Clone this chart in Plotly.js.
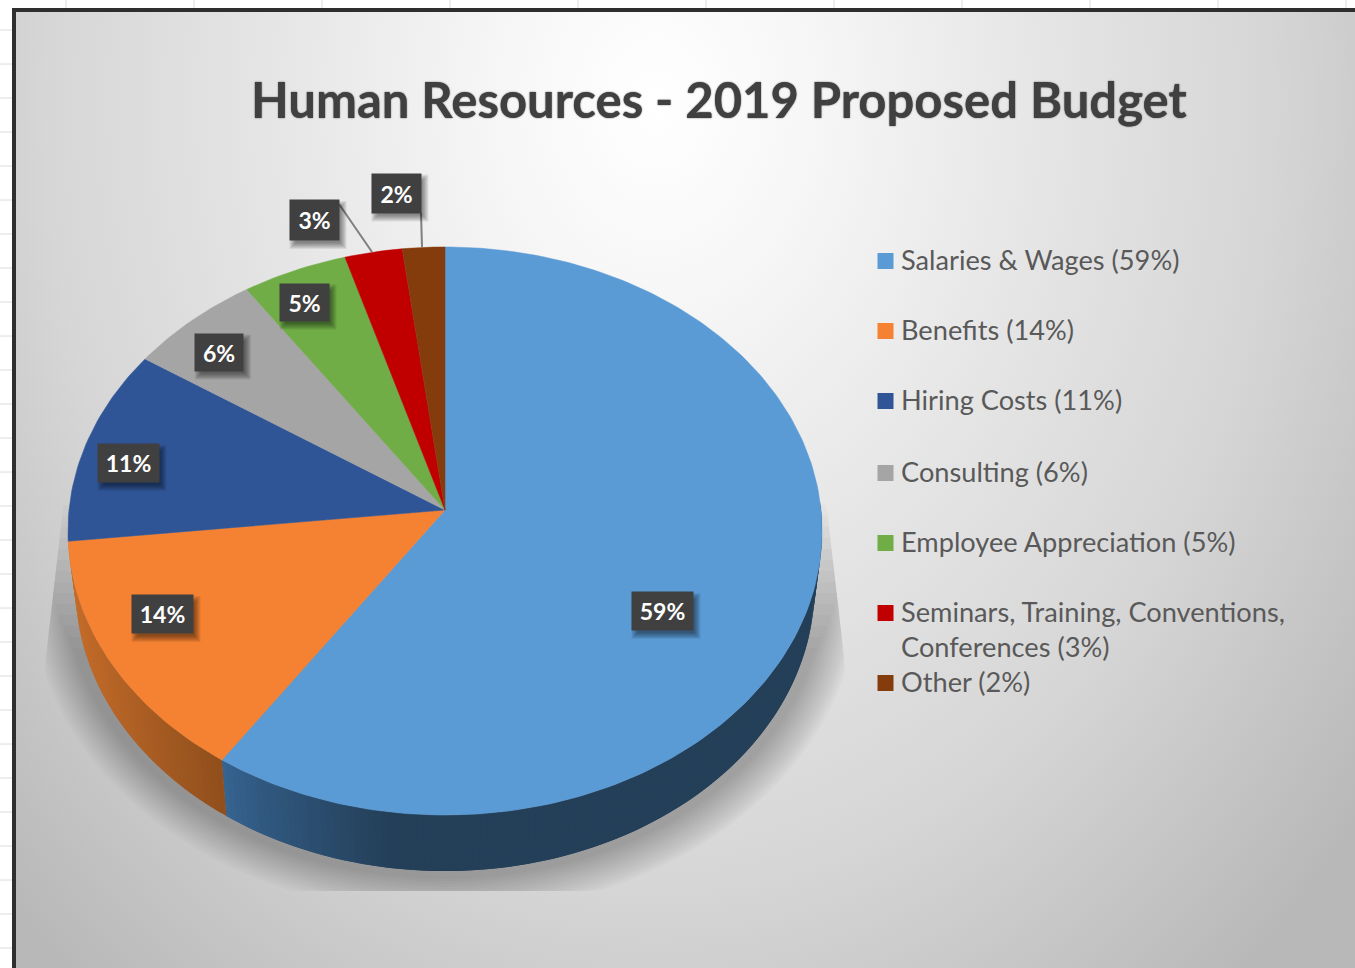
<!DOCTYPE html>
<html><head><meta charset="utf-8">
<script src="https://cdn.plot.ly/plotly-3.0.1.min.js"></script>
<style>
html,body{margin:0;padding:0;width:1355px;height:968px;overflow:hidden;background:#fff}
#bg{position:absolute;left:12px;top:8px;width:1343px;height:960px;box-sizing:border-box;border-left:4px solid #2e2e2e;border-top:4px solid #2e2e2e;
background:radial-gradient(ellipse 900px 1150px at 640px 90px,#ffffff 0%,#f6f6f6 18%,#e6e6e6 42%,#d6d6d6 68%,#c6c6c6 85%,#b8b8b8 100%)}
#chart{position:absolute;left:0;top:0;width:1355px;height:968px}
</style></head><body>
<div id="bg"></div><div id="chart"></div>
<script>
const categories=["Salaries & Wages","Benefits","Hiring Costs","Consulting","Employee Appreciation","Seminars, Training, Conventions,<br>Conferences","Other"];
const budgetShare=[59.4,13.85,11.15,6.15,4.85,2.65,1.95];
const sliceColors=["#5b9bd5","#f58232","#2f5597","#a5a5a5","#70ad47","#c00000","#843c0c"];
const titleText="Human Resources - 2019 Proposed Budget";

// layout constants (axis units equal screen pixels)
const APEX_X=445,APEX_Y=510,RX=376,RY=282.5,TILT=0.074,DEPTH=56,LOW_SCALE=0.98;
const labelCenters=[[662,611],[162,614],[128,463],[219,352],[304,302],[314,220],[396,193]];
const labelSizes=[[61,38],[61,38],[61,38],[48,37],[49,37],[49,40],[49,39]];
const legendY=[261,331,401,473,543,613,683];
const leaders=[{i:5,x0:339,y0:204,x1:372,y1:252},{i:6,x0:421,y0:213,x1:422,y1:247}];

const rad=d=>d*Math.PI/180;
function rimTop(th){const u=Math.sin(rad(th)),v=Math.cos(rad(th)),k=1+TILT*v;
  return [APEX_X+RX*u/k,APEX_Y-RY*v/k];}
function rimLow(th){const p=rimTop(th);return [APEX_X+(p[0]-APEX_X)*LOW_SCALE,p[1]+DEPTH];}
const total=budgetShare.reduce((a,b)=>a+b,0);
let cum=0;const bounds=[0];budgetShare.forEach(v=>{cum+=v;bounds.push(cum/total*360);});
const pct=budgetShare.map(v=>Math.round(v/total*100)+"%");

function mix(a,b,t){return "rgb("+a.map((c,i)=>Math.round(c+(b[i]-c)*t)).join(",")+")";}
function wallColor(idx,x){
  if(idx===0){const t=Math.min(1,Math.max(0,(x-226)/170));return mix([54,100,145],[36,63,88],Math.pow(t,0.8));}
  const t=Math.min(1,Math.max(0,(x-70)/155));return mix([196,108,42],[143,78,28],t);
}
const shapes=[];
// spreadsheet grid outside of the chart
for(let k=0;k<28;k++)shapes.push({type:"line",xref:"x",yref:"y",x0:0,x1:12,y0:30+34*k,y1:30+34*k,layer:"below",line:{color:"#dcdcdc",width:1}});
for(let k=0;k<11;k++)shapes.push({type:"line",xref:"x",yref:"y",x0:66+128*k,x1:66+128*k,y0:0,y1:8,layer:"below",line:{color:"#dcdcdc",width:1}});
// soft drop shadow
function pathOf(pts){return "M"+pts.map(p=>p[0].toFixed(1)+","+p[1].toFixed(1)).join("L")+"Z";}
for(let s=0;s<14;s++){
  const rx=414-s*2.7,ry=324-s*2.7,cx=445,cy=590,pts=[],topY=505+s*11;
  for(let a=0;a<360;a+=2){
    let x=cx+rx*Math.cos(rad(a)),y=Math.max(topY,Math.min(891,cy+ry*Math.sin(rad(a))));
    const slope=Math.min(1,Math.max(0,(y-500)/190)),rb=826+22*slope,lb=64-22*slope;
    pts.push([Math.max(lb,Math.min(rb,x)),y]);
  }
  shapes.push({type:"path",xref:"x",yref:"y",path:pathOf(pts),fillcolor:"rgba(0,0,0,0.019)",line:{width:0},layer:"below"});
}
// visible outer wall, in narrow overlapping strips
[0,1].forEach(idx=>{
  const from=idx===0?88:bounds[1],to=idx===0?bounds[1]:bounds[2];
  for(let a=from;a<to;a+=1){
    const b=Math.min(to,a+2),p=[rimTop(a),rimTop(b),rimLow(b),rimLow(a)],col=wallColor(idx,p[0][0]);
    shapes.push({type:"path",xref:"x",yref:"y",path:pathOf(p),fillcolor:col,line:{width:0},layer:"below"});
  }
});
// leader lines and label shadows
leaders.forEach(l=>shapes.push({type:"line",xref:"x",yref:"y",x0:l.x0,y0:l.y0,x1:l.x1,y1:l.y1,layer:"above",line:{color:"#808080",width:2}}));
labelCenters.forEach((c,i)=>{const w=labelSizes[i][0]/2,h=labelSizes[i][1]/2;
  for(let s=0;s<7;s++)shapes.push({type:"rect",xref:"x",yref:"y",x0:c[0]-w+4-4+s,x1:c[0]+w+4+4-s,y0:c[1]-h+5-4+s,y1:c[1]+h+5+4-s,layer:"above",fillcolor:"rgba(0,0,0,0.075)",line:{width:0}});
});

const traces=[];
categories.forEach((name,i)=>{
  const pts=[[APEX_X,APEX_Y]];
  for(let a=bounds[i];a<bounds[i+1];a+=1)pts.push(rimTop(a));
  pts.push(rimTop(bounds[i+1]));pts.push([APEX_X,APEX_Y]);
  traces.push({type:"scatter",mode:"lines",name:name,x:pts.map(p=>p[0]),y:pts.map(p=>p[1]),fill:"toself",fillcolor:sliceColors[i],
    line:{color:sliceColors[i],width:0.5},hoverinfo:"name",showlegend:false});
});
traces.push({type:"scatter",mode:"markers",x:categories.map(()=>885.5),y:legendY,
  marker:{symbol:"square",size:16,color:sliceColors,line:{width:0}},hoverinfo:"skip",showlegend:false});

const annotations=[];
annotations.push({xref:"x",yref:"y",x:719,y:99,text:"<b>"+titleText+"</b>",showarrow:false,xanchor:"center",yanchor:"middle",
  font:{family:"Lato, Carlito, sans-serif",size:49,color:"#404040",shadow:"0 0 1.5px #404040"}});
categories.forEach((name,i)=>{
  annotations.push({xref:"x",yref:"y",x:900,y:legendY[i]-19,xanchor:"left",yanchor:"top",align:"left",showarrow:false,
    text:name+" ("+pct[i]+")",font:{family:"Lato, Carlito, sans-serif",size:27.2,color:"#595959"},borderpad:0});
  annotations.push({xref:"x",yref:"y",x:labelCenters[i][0],y:labelCenters[i][1],xanchor:"center",yanchor:"middle",showarrow:false,
    text:"<b>"+pct[i]+"</b>",width:labelSizes[i][0],height:labelSizes[i][1],borderpad:0,bgcolor:"#404040",
    font:{family:"Lato, Carlito, sans-serif",size:23,color:"#ffffff"}});
});

Plotly.newPlot("chart",traces,{
  width:1355,height:968,margin:{l:0,r:0,t:0,b:0},
  paper_bgcolor:"rgba(0,0,0,0)",plot_bgcolor:"rgba(0,0,0,0)",showlegend:false,hovermode:"closest",
  xaxis:{range:[0,1355],visible:false,fixedrange:true},
  yaxis:{range:[968,0],visible:false,fixedrange:true},
  shapes:shapes,annotations:annotations
},{displayModeBar:false});
</script></body></html>
